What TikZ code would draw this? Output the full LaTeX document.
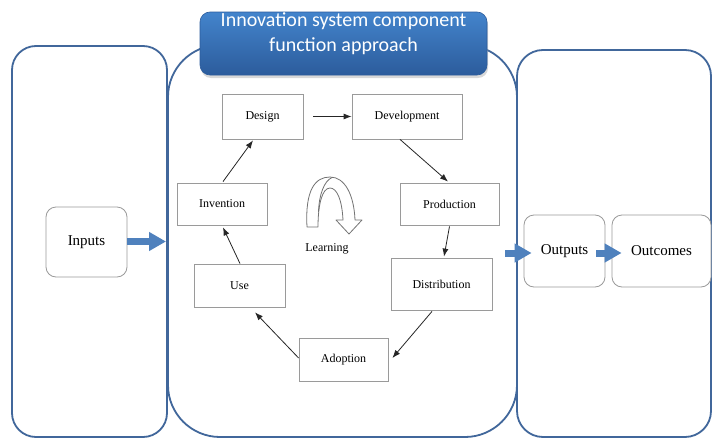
\documentclass[tikz,border=0pt]{standalone}
\usepackage{fontspec}
\setmainfont{Liberation Serif}
\newfontfamily\titlefont{Carlito}
\usetikzlibrary{arrows.meta,calc}
\definecolor{panelblue}{HTML}{41679B}
\definecolor{officeblue}{HTML}{4F81BD}
\definecolor{boxgray}{HTML}{9A9A9A}
\definecolor{titletop}{HTML}{4384CC}
\definecolor{titlebot}{HTML}{2C5C9C}
\begin{document}
\begin{tikzpicture}[x=1pt,y=-1pt,
  panel/.style={draw=panelblue,line width=1.8pt},
  cyclebox/.style={draw=boxgray,line width=0.8pt,fill=white,inner sep=0pt,font=\fontsize{12}{14}\selectfont},
  endbox/.style={draw=boxgray,line width=0.8pt,fill=white,rounded corners=10pt,inner sep=0pt,font=\fontsize{15}{18}\selectfont},
  arr/.style={-{Latex[length=8pt,width=6pt]},line width=0.8pt,black!85},
  bigarrow/.style={officeblue,line width=7pt,-{Triangle[length=17pt,width=18pt]}},
  titletext/.style={text=white,font=\titlefont\fontsize{20}{24}\selectfont,inner sep=0pt,anchor=base}
]
\useasboundingbox (0,0) rectangle (712,439);
\fill[white] (0,0) rectangle (712,439);

% panels
\draw[panel,rounded corners=24pt] (12,46) rectangle (167,437);
\draw[panel,rounded corners=52pt] (168,45) rectangle (517,437);
\draw[panel,rounded corners=26pt] (517,50) rectangle (711,437);

% title box
\fill[black!30,opacity=0.5,rounded corners=10pt] (201,15) rectangle (488,78);
\shade[top color=titletop,bottom color=titlebot,draw=titlebot,line width=0.6pt,rounded corners=10pt] (200,12) rectangle (487,75);
\node[titletext] (title1) at (343.5,27) {Innovation system component};
\node[titletext] (title2) at (343.5,51) {function approach};

% cycle boxes
\node[cyclebox,minimum width=81pt,minimum height=45pt] (design) at (262.5,116.5) {Design};
\node[cyclebox,minimum width=110pt,minimum height=45pt] (dev) at (407,116.5) {Development};
\node[cyclebox,minimum width=99pt,minimum height=42pt] (prod) at (449.5,204) {Production};
\node[cyclebox,minimum width=101pt,minimum height=52pt] (dist) at (441.5,284) {Distribution};
\node[cyclebox,minimum width=89pt,minimum height=43pt] (adopt) at (343.5,359.5) {Adoption};
\node[cyclebox,minimum width=91pt,minimum height=43pt] (use) at (239.5,285.5) {Use};
\node[cyclebox,minimum width=90pt,minimum height=42pt] (invent) at (222,204) {Invention};

% cycle arrows
\draw[arr] ([xshift=10pt]design.east) -- (dev.west);
\draw[arr] ([xshift=-7pt]dev.south) -- ([xshift=-1.5pt,yshift=1pt]prod.north);
\draw[arr] ([yshift=-1pt]prod.south) -- ([xshift=2.5pt,yshift=1pt]dist.north);
\draw[arr] ([xshift=-9.5pt,yshift=-1pt]dist.south) -- ([xshift=4pt,yshift=1.5pt]adopt.east);
\draw[arr] ([yshift=1.5pt]adopt.west) -- ([xshift=15.5pt,yshift=-5pt]use.south);
\draw[arr] ([xshift=0.5pt]use.north) -- ([xshift=1pt,yshift=-2pt]invent.south);
\draw[arr] ([xshift=1pt,yshift=1pt]invent.north) -- ([xshift=-9.5pt,yshift=-1pt]design.south);

% learning icon
\draw[gray!90!black,line width=0.8pt,fill=white,line join=round]
  (307,227) .. controls (305,190) and (315,177) .. (330,177)
  .. controls (345,177) and (354,195) .. (355,220)
  -- (362,220) -- (349,234) -- (336,220) -- (343,220)
  .. controls (342,200) and (337,188) .. (330,188)
  .. controls (322,188) and (318,205) .. (318,227) -- cycle;
\draw[gray!90!black,line width=0.8pt]
  (332,177.5) .. controls (324,181) and (319,195) .. (318.5,212);
\node[font=\fontsize{12}{14}\selectfont,inner sep=0pt] (learning) at (327,249) {Learning};

% inputs / outputs / outcomes
\node[endbox,minimum width=81pt,minimum height=70pt] (inputs) at (86.5,242) {Inputs};
\node[endbox,minimum width=81pt,minimum height=72pt] (outputs) at (564.5,251) {\raisebox{-2pt}{Outputs}};
\node[endbox,minimum width=99pt,minimum height=72pt] (outcomes) at (661.5,251) {\raisebox{-2pt}{Outcomes}};

\coordinate (midleft) at (166,241.5);
\coordinate (outstart) at (505,253);
\draw[bigarrow] ([yshift=0.5pt]inputs.east) -- (midleft);
\draw[bigarrow] (outstart) -- ([xshift=8pt,yshift=-2pt]outputs.west);
\draw[bigarrow] ([xshift=-9pt,yshift=-2pt]outputs.east) -- ([xshift=10pt,yshift=-2pt]outcomes.west);
\end{tikzpicture}
\end{document}
